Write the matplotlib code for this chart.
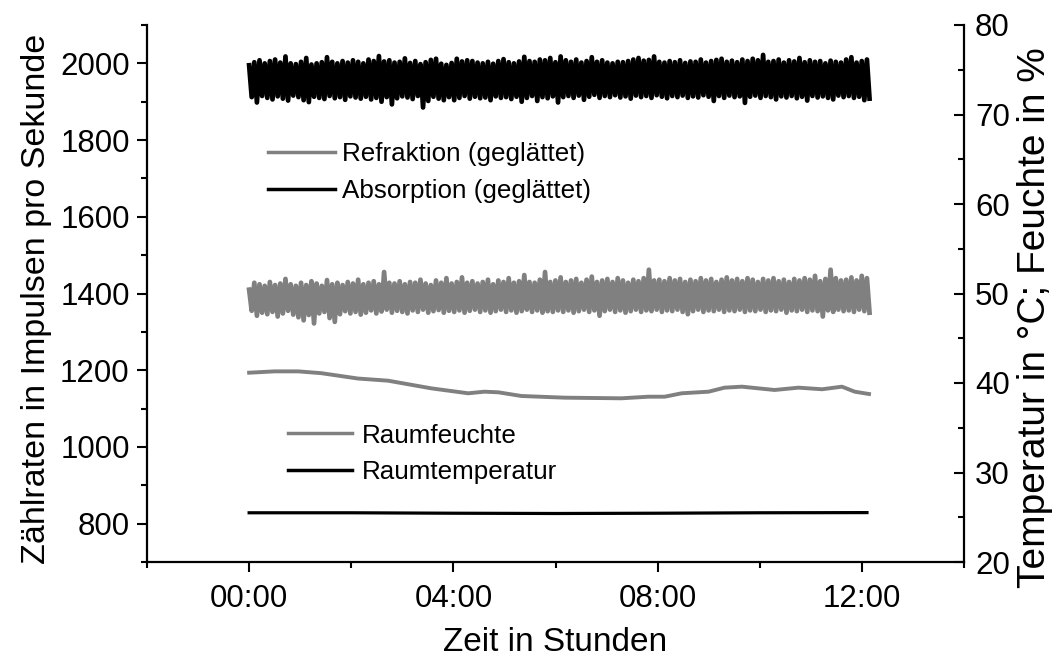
import matplotlib
matplotlib.use('Agg')
import matplotlib.pyplot as plt
from matplotlib.ticker import MultipleLocator, FixedLocator, FuncFormatter
import numpy as np

plt.rcParams['font.family'] = ['Liberation Sans', 'DejaVu Sans']

# --- data ---
# noisy count rates, stored as alternating peak / trough samples
absorption_high = [
    1995, 2003, 2008, 2000, 2006, 2010, 2002, 2018, 2000, 1998,
    2004, 2014, 1997, 2000, 2003, 2016, 2004, 2000, 2006, 2002,
    2008, 2004, 2000, 2010, 2006, 2019, 2005, 2008, 2002, 2004,
    2013, 2001, 2006, 1998, 2003, 2009, 2012, 1999, 1996, 2001,
    2012, 2005, 2008, 2006, 2002, 2000, 2004, 1999, 2006, 2011,
    2003, 2000, 2005, 2017, 2006, 2004, 2010, 2008, 2014, 2003,
    2018, 2008, 2004, 2010, 2002, 2006, 2016, 2004, 2008, 2002,
    2000, 2004, 2003, 2006, 2010, 2014, 2007, 2009, 2018, 2004,
    2002, 2006, 2003, 2008, 2001, 2005, 2004, 2010, 2002, 2006,
    2009, 2012, 2004, 2007, 2003, 2010, 2006, 2012, 2008, 2022,
    2004, 2006, 2010, 2002, 2008, 2005, 2014, 2003, 2008, 2004,
    2006, 2000, 2007, 2004, 2002, 2010, 2016, 2002, 2006, 2010,
]
absorption_low = [
    1912, 1898, 1915, 1910, 1906, 1914, 1908, 1903, 1916, 1912,
    1904, 1899, 1913, 1910, 1907, 1915, 1909, 1912, 1905, 1914,
    1911, 1908, 1913, 1906, 1910, 1900, 1912, 1893, 1909, 1914,
    1911, 1907, 1915, 1885, 1902, 1913, 1908, 1904, 1912, 1904,
    1910, 1915, 1908, 1913, 1909, 1911, 1904, 1914, 1910, 1912,
    1907, 1913, 1900, 1910, 1915, 1902, 1912, 1909, 1914, 1898,
    1912, 1915, 1910, 1916, 1905, 1913, 1918, 1910, 1915, 1912,
    1917, 1911, 1914, 1908, 1916, 1912, 1915, 1910, 1917, 1913,
    1909, 1915, 1912, 1916, 1910, 1914, 1911, 1917, 1913, 1902,
    1915, 1910, 1916, 1912, 1914, 1897, 1913, 1916, 1910, 1915,
    1912, 1906, 1914, 1911, 1915, 1909, 1913, 1903, 1915, 1911,
    1914, 1910, 1906, 1916, 1912, 1915, 1910, 1913, 1904, 1908,
]
refraktion_high = [
    1410, 1428, 1424, 1420, 1430, 1422, 1426, 1438, 1424, 1420,
    1428, 1422, 1432, 1426, 1420, 1435, 1424, 1428, 1422, 1430,
    1426, 1436, 1424, 1428, 1432, 1424, 1456, 1428, 1426, 1432,
    1424, 1430, 1428, 1436, 1426, 1422, 1434, 1428, 1440, 1426,
    1430, 1442, 1428, 1432, 1426, 1430, 1436, 1424, 1434, 1430,
    1440, 1428, 1432, 1448, 1430, 1428, 1436, 1456, 1430, 1434,
    1442, 1430, 1434, 1438, 1428, 1436, 1444, 1430, 1434, 1438,
    1430, 1440, 1434, 1428, 1436, 1432, 1440, 1462, 1434, 1436,
    1432, 1440, 1434, 1438, 1430, 1436, 1432, 1440, 1434, 1438,
    1430, 1436, 1442, 1434, 1438, 1432, 1440, 1436, 1430, 1438,
    1434, 1440, 1432, 1436, 1430, 1438, 1434, 1440, 1436, 1446,
    1432, 1438, 1462, 1440, 1434, 1436, 1442, 1434, 1446, 1440,
]
refraktion_low = [
    1355, 1342, 1350, 1346, 1352, 1340, 1348, 1355, 1345, 1338,
    1330, 1344, 1322, 1348, 1352, 1336, 1326, 1346, 1354, 1348,
    1352, 1345, 1350, 1356, 1348, 1353, 1358, 1350, 1355, 1352,
    1348, 1356, 1352, 1358, 1350, 1354, 1357, 1350, 1355, 1352,
    1356, 1350, 1355, 1358, 1352, 1356, 1350, 1354, 1358, 1352,
    1356, 1350, 1354, 1358, 1352, 1356, 1350, 1354, 1352, 1356,
    1352, 1356, 1350, 1354, 1358, 1352, 1356, 1342, 1354, 1358,
    1352, 1356, 1350, 1354, 1358, 1352, 1356, 1354, 1358, 1352,
    1356, 1354, 1358, 1352, 1346, 1354, 1358, 1352, 1356, 1354,
    1358, 1352, 1356, 1354, 1358, 1352, 1356, 1354, 1358, 1352,
    1356, 1354, 1358, 1350, 1356, 1354, 1358, 1352, 1356, 1354,
    1340, 1356, 1352, 1358, 1354, 1356, 1352, 1358, 1354, 1350,
]
t_end = 12.15  # hours

feuchte_t = [0.0, 0.5, 0.96, 1.41, 2.13, 2.72, 3.57, 4.29, 4.61, 4.88, 5.33, 6.18, 7.29,
             7.82, 8.14, 8.47, 9.0, 9.31, 9.65, 10.29, 10.76, 11.22, 11.61, 11.86, 12.14]
feuchte = [41.15, 41.3, 41.3, 41.1, 40.5, 40.26, 39.4, 38.85, 39.03, 38.96, 38.55, 38.36, 38.29,
           38.47, 38.47, 38.85, 39.03, 39.48, 39.59, 39.22, 39.48, 39.3, 39.59, 39.03, 38.77]

temp_t = [0.0, 2.0, 4.0, 6.0, 8.0, 10.0, 12.1]
temp = [25.5, 25.5, 25.45, 25.42, 25.45, 25.5, 25.52]


def interleave(hi, lo):
    out = np.empty(len(hi) + len(lo))
    out[0::2] = hi
    out[1::2] = lo
    return out


absorption = interleave(absorption_high, absorption_low)
refraktion = interleave(refraktion_high, refraktion_low)
t_noise = np.linspace(0, t_end, len(absorption))

fig = plt.figure(figsize=(10.59, 6.61), dpi=100)
ax = fig.add_axes([147 / 1059, 1 - 562 / 661, (964 - 147) / 1059, (562 - 25) / 661])
ax2 = ax.twinx()

grey = '#808080'
l_ref, = ax.plot(t_noise, refraktion, color=grey, linewidth=3.4, solid_joinstyle='round',
                 label='Refraktion (geglättet)')
l_abs, = ax.plot(t_noise, absorption, color='black', linewidth=3.4, solid_joinstyle='round',
                 label='Absorption (geglättet)')
l_feu, = ax2.plot(feuchte_t, feuchte, color=grey, linewidth=2.8, label='Raumfeuchte')
l_tmp, = ax2.plot(temp_t, temp, color='black', linewidth=2.3, label='Raumtemperatur')

ax.set_xlim(-2, 14)
ax.set_ylim(700, 2100)
ax2.set_ylim(20, 80)

ax.xaxis.set_major_locator(FixedLocator([0, 4, 8, 12]))
ax.xaxis.set_minor_locator(FixedLocator([-2, 2, 6, 10, 14]))
ax.xaxis.set_major_formatter(FuncFormatter(lambda v, p: f"{int(round(v)):02d}:00"))
ax.yaxis.set_major_locator(FixedLocator(list(range(800, 2001, 200))))
ax.yaxis.set_minor_locator(MultipleLocator(100))
ax2.yaxis.set_major_locator(MultipleLocator(10))
ax2.yaxis.set_minor_locator(MultipleLocator(5))

for a in (ax, ax2):
    a.spines['top'].set_visible(False)
    for s in a.spines.values():
        s.set_linewidth(1.6)
ax.spines['right'].set_visible(False)
ax2.spines['left'].set_visible(False)
ax2.spines['bottom'].set_visible(False)

ax.tick_params(axis='both', which='major', direction='out', length=7.5, width=1.5,
               labelsize=22.5, pad=5)
ax.tick_params(axis='both', which='minor', direction='out', length=4.5, width=1.5)
ax.tick_params(axis='x', which='major', pad=8)
ax2.tick_params(axis='y', which='major', direction='in', length=7.5, width=1.5,
                labelsize=22.5, pad=8)
ax2.tick_params(axis='y', which='minor', direction='in', length=4.5, width=1.5)

ax.set_xlabel('Zeit in Stunden', fontsize=24, labelpad=10)
ax.set_ylabel('Zählraten in Impulsen pro Sekunde', fontsize=24.5, labelpad=6)
ax.yaxis.label.set_y(0.49)
ax2.set_ylabel('Temperatur in °C; Feuchte in %', fontsize=28, labelpad=5)
ax2.yaxis.label.set_y(0.455)

leg1 = ax2.legend(handles=[l_ref, l_abs], loc='center left',
                  bbox_to_anchor=(268 / 1059, 1 - 172.5 / 661), bbox_transform=fig.transFigure,
                  frameon=False, fontsize=18.7, handlelength=2.58, handletextpad=0.27,
                  borderpad=0, borderaxespad=0, labelspacing=0.5)
ax2.add_artist(leg1)
leg2 = ax2.legend(handles=[l_feu, l_tmp], loc='center left',
                  bbox_to_anchor=(288 / 1059, 1 - 454 / 661), bbox_transform=fig.transFigure,
                  frameon=False, fontsize=18.7, handlelength=2.46, handletextpad=0.38,
                  borderpad=0, borderaxespad=0, labelspacing=0.5)
for leg in (leg1, leg2):
    for h in leg.legend_handles:
        h.set_linewidth(2.5)

fig.savefig('out.png', dpi=100)
